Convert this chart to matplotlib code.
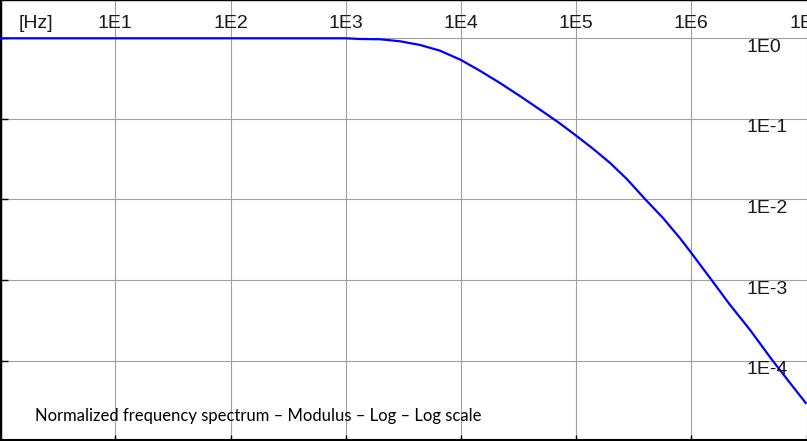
import matplotlib
matplotlib.use("Agg")
import matplotlib.pyplot as plt

# curve (frequency in Hz, normalized modulus)
freq = [1, 1e3, 1.33e3, 1.99e3, 2.96e3, 4.42e3, 6.58e3, 1.0e4, 1.46e4, 2.18e4,
        3.25e4, 4.85e4, 7.24e4, 1.01e5, 1.41e5, 1.97e5, 2.75e5, 3.96e5, 5.71e5,
        7.98e5, 1.0e6, 1.50e6, 2.17e6, 3.24e6, 4.99e6, 7.19e6, 9.84e6]
modulus = [1.0, 1.0, 0.980, 0.972, 0.918, 0.826, 0.702, 0.538, 0.396, 0.279,
           0.1923, 0.1304, 0.0877, 0.0613, 0.0423, 0.0284, 0.0180, 0.01014, 0.00584,
           0.00330, 0.00217, 0.00100, 4.91e-4, 2.40e-4, 1.035e-4, 5.29e-5, 2.99e-5]

x_ticks = [1e1, 1e2, 1e3, 1e4, 1e5, 1e6, 1e7]
x_tick_labels = ["1E1", "1E2", "1E3", "1E4", "1E5", "1E6", "1E7"]
y_ticks = [1e0, 1e-1, 1e-2, 1e-3, 1e-4]
y_tick_labels = ["1E0", "1E-1", "1E-2", "1E-3", "1E-4"]
x_unit = "[Hz]"
caption = "Normalized frequency spectrum \u2013 Modulus \u2013 Log \u2013 Log scale"

W, H = 807, 441
fig = plt.figure(figsize=(W / 100, H / 100), dpi=100)
ax = fig.add_axes([0, 1 / H, 1, 1 - 1 / H])

ax.plot(freq, modulus, color="#0000ff", lw=1.6, zorder=3)

ax.set_xscale("log")
ax.set_yscale("log")
ax.set_xlim(10 ** -0.001, 10 ** 7.004)
ax.set_ylim(10 ** -4.984, 10 ** 0.475)

ax.set_xticks(x_ticks)
ax.set_yticks(y_ticks)
ax.minorticks_off()
ax.set_xticklabels([])
ax.set_yticklabels([])
ax.tick_params(axis="y", direction="in", length=6, width=1, color="black", right=False)
ax.tick_params(axis="x", direction="in", length=3.6, width=1, color="black", top=False)
ax.grid(True, color="#a0a0a0", lw=0.8, zorder=1)

for side in ["left", "top", "bottom"]:
    ax.spines[side].set_color("black")
ax.spines["left"].set_linewidth(2.5)
ax.spines["top"].set_linewidth(1)
ax.spines["bottom"].set_linewidth(1.5)
ax.spines["right"].set_visible(False)

txt_kw = dict(fontsize=14, family="Liberation Sans", color="#1a1a1a")

# decade labels along the top, inside the frame
for xv, lab in zip(x_ticks, x_tick_labels):
    ax.annotate(lab, xy=(xv, 1), xycoords=("data", "axes fraction"),
                xytext=(0, -28.3), textcoords="offset pixels",
                ha="center", va="baseline", annotation_clip=False, **txt_kw)
fig.text(36 / W, 1 - 28.3 / H, x_unit, ha="center", va="baseline", **txt_kw)

# decade labels on the right, just under each grid line
for yv, lab in zip(y_ticks, y_tick_labels):
    ax.annotate(lab, xy=(1, yv), xycoords=("axes fraction", "data"),
                xytext=(-60, -13.5), textcoords="offset pixels",
                ha="left", va="baseline", **txt_kw)

fig.text(35 / W, 20.3 / H, caption, ha="left", va="baseline",
         fontsize=12.0, family="Lato", color="black")

fig.savefig("out.png", dpi=100)
